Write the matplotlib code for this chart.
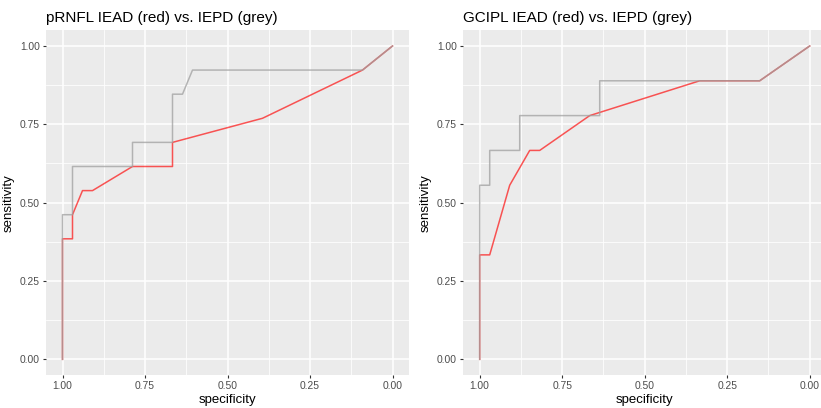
import numpy as np
import matplotlib
matplotlib.use('Agg')
import matplotlib.pyplot as plt

plt.rcParams['font.family'] = ['Liberation Sans', 'DejaVu Sans']

# pRNFL (13 cases, 33 controls)
rnfl_iead_spec = [1.0, 1.0, 32/33, 32/33, 31/33, 30/33, 26/33, 22/33, 22/33, 13/33, 3/33, 0.0]
rnfl_iead_sens = [0.0, 5/13, 5/13, 6/13, 7/13, 7/13, 8/13, 8/13, 9/13, 10/13, 12/13, 1.0]
rnfl_iepd_spec = [1.0, 1.0, 32/33, 32/33, 26/33, 26/33, 22/33, 22/33, 21/33, 20/33, 3/33, 0.0]
rnfl_iepd_sens = [0.0, 6/13, 6/13, 8/13, 8/13, 9/13, 9/13, 11/13, 11/13, 12/13, 12/13, 1.0]

# GCIPL (9 cases, 33 controls)
gcl_iead_spec = [1.0, 1.0, 32/33, 30/33, 28/33, 27/33, 22/33, 11/33, 5/33, 0.0]
gcl_iead_sens = [0.0, 3/9, 3/9, 5/9, 6/9, 6/9, 7/9, 8/9, 8/9, 1.0]
gcl_iepd_spec = [1.0, 1.0, 32/33, 32/33, 29/33, 29/33, 21/33, 21/33, 5/33, 0.0]
gcl_iepd_sens = [0.0, 5/9, 5/9, 6/9, 6/9, 7/9, 7/9, 8/9, 8/9, 1.0]

titles = ['pRNFL IEAD (red) vs. IEPD (grey)', 'GCIPL IEAD (red) vs. IEPD (grey)']
ticks = [0.0, 0.25, 0.5, 0.75, 1.0]
tick_labels = ['0.00', '0.25', '0.50', '0.75', '1.00']

fig = plt.figure(figsize=(8.21, 4.08), dpi=100)
W, H = 821, 408
ax1 = fig.add_axes([46/W, 1-375/408, 363/W, 344.7/H])
ax2 = fig.add_axes([463.2/W, 1-375/408, 363/W, 344.7/H])

data = [(rnfl_iead_spec, rnfl_iead_sens, rnfl_iepd_spec, rnfl_iepd_sens),
        (gcl_iead_spec, gcl_iead_sens, gcl_iepd_spec, gcl_iepd_sens)]

for ax, title, (rs, rv, gs, gv) in zip([ax1, ax2], titles, data):
    ax.set_facecolor('#EBEBEB')
    ax.plot(rs, rv, color='red', alpha=0.65, linewidth=1.1, zorder=3)
    ax.plot(gs, gv, color='#A0A0A0', alpha=0.75, linewidth=1.1, zorder=3)
    ax.set_xlim(1.05, -0.05)
    ax.set_ylim(-0.05, 1.05)
    ax.set_xticks(ticks)
    ax.set_xticklabels(tick_labels)
    ax.set_yticks(ticks)
    ax.set_yticklabels(tick_labels)
    ax.set_xticks([0.125, 0.375, 0.625, 0.875], minor=True)
    ax.set_yticks([0.125, 0.375, 0.625, 0.875], minor=True)
    ax.grid(which='major', color='white', linewidth=1.1)
    ax.grid(which='minor', color='white', linewidth=0.55)
    ax.set_axisbelow(True)
    ax.tick_params(which='major', length=2.5, width=0.8, color='#333333',
                   labelsize=7.4, labelcolor='#4D4D4D', pad=2)
    ax.tick_params(which='minor', length=0)
    for spine in ax.spines.values():
        spine.set_visible(False)
    ax.set_xlabel('specificity', fontsize=9.5, labelpad=2)
    ax.set_ylabel('sensitivity', fontsize=9.5, labelpad=4)
    ax.set_title(title, loc='left', fontsize=11, pad=6)

fig.savefig('out.png', dpi=100)
